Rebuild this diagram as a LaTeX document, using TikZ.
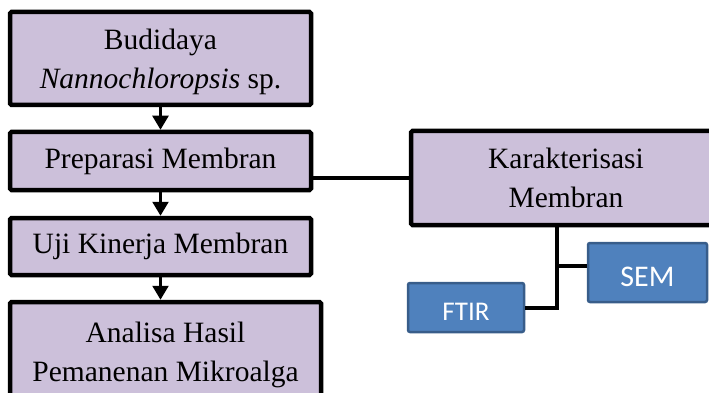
\documentclass[tikz,border=0pt]{standalone}
\usepackage{fontspec}
\setmainfont{Liberation Serif}
\newfontfamily\calibri{Carlito}
\usetikzlibrary{arrows.meta}

\definecolor{lilac}{HTML}{CCC0DA}
\definecolor{bluemid}{HTML}{4F81BD}
\definecolor{bluedark}{HTML}{385D8A}

\begin{document}
\begin{tikzpicture}[x=1pt, y=-1pt,
    stage/.style={rectangle, draw, line width=4.5pt, rounded corners=1.5pt, fill=lilac,
        align=center, inner sep=0pt, font=\fontsize{29.5}{39}\selectfont},
    test/.style={rectangle, draw=bluedark, line width=2.5pt, rounded corners=2pt, fill=bluemid,
        text=white, inner sep=0pt, text height=#1},
    link/.style={line width=4pt},
    flow/.style={line width=2.5pt, -{Triangle[length=14pt, width=16pt]}}]
    \useasboundingbox (0,0) rectangle (709,393);

    % main stages
    \node[stage, minimum width=301pt, minimum height=93pt] (bud) at (160.5,58.5)
        {\rule{0pt}{28pt}Budidaya\\\textit{Nannochloropsis} sp.};
    \node[stage, minimum width=301pt, minimum height=58pt] (prep) at (160.5,161)
        {Preparasi Membran};
    \node[stage, minimum width=301pt, minimum height=57pt] (uji) at (160.5,246.5)
        {Uji Kinerja Membran};
    \node[stage, minimum width=311pt, minimum height=106pt] (hasil) at (165.5,355)
        {Analisa Hasil\\Pemanenan Mikroalga};

    % characterisation
    \node[stage, minimum width=310pt, minimum height=94pt] (kar) at (566,178)
        {Karakterisasi\\Membran};
    \node[test=28pt, minimum width=119pt, minimum height=59pt,
        font=\calibri\fontsize{30}{34}\selectfont] (sem) at (647.5,272.5) {SEM};
    \node[test=26pt, minimum width=116pt, minimum height=49pt,
        font=\calibri\fontsize{27}{32}\selectfont] (ftir) at (466,307.5) {FTIR};
    \coordinate (split) at (557,266);

    \draw[flow] (bud) -- (prep);
    \draw[flow] (prep) -- (uji);
    \draw[flow] (uji) -- (hasil.north -| uji.south);
    \draw[link] (kar.west) -- (kar.west -| prep.east);
    \draw[link] (split |- kar.south) -- (split |- ftir.east) -- (ftir.east);
    \draw[link] (split) -- (split -| sem.west);
\end{tikzpicture}
\end{document}
